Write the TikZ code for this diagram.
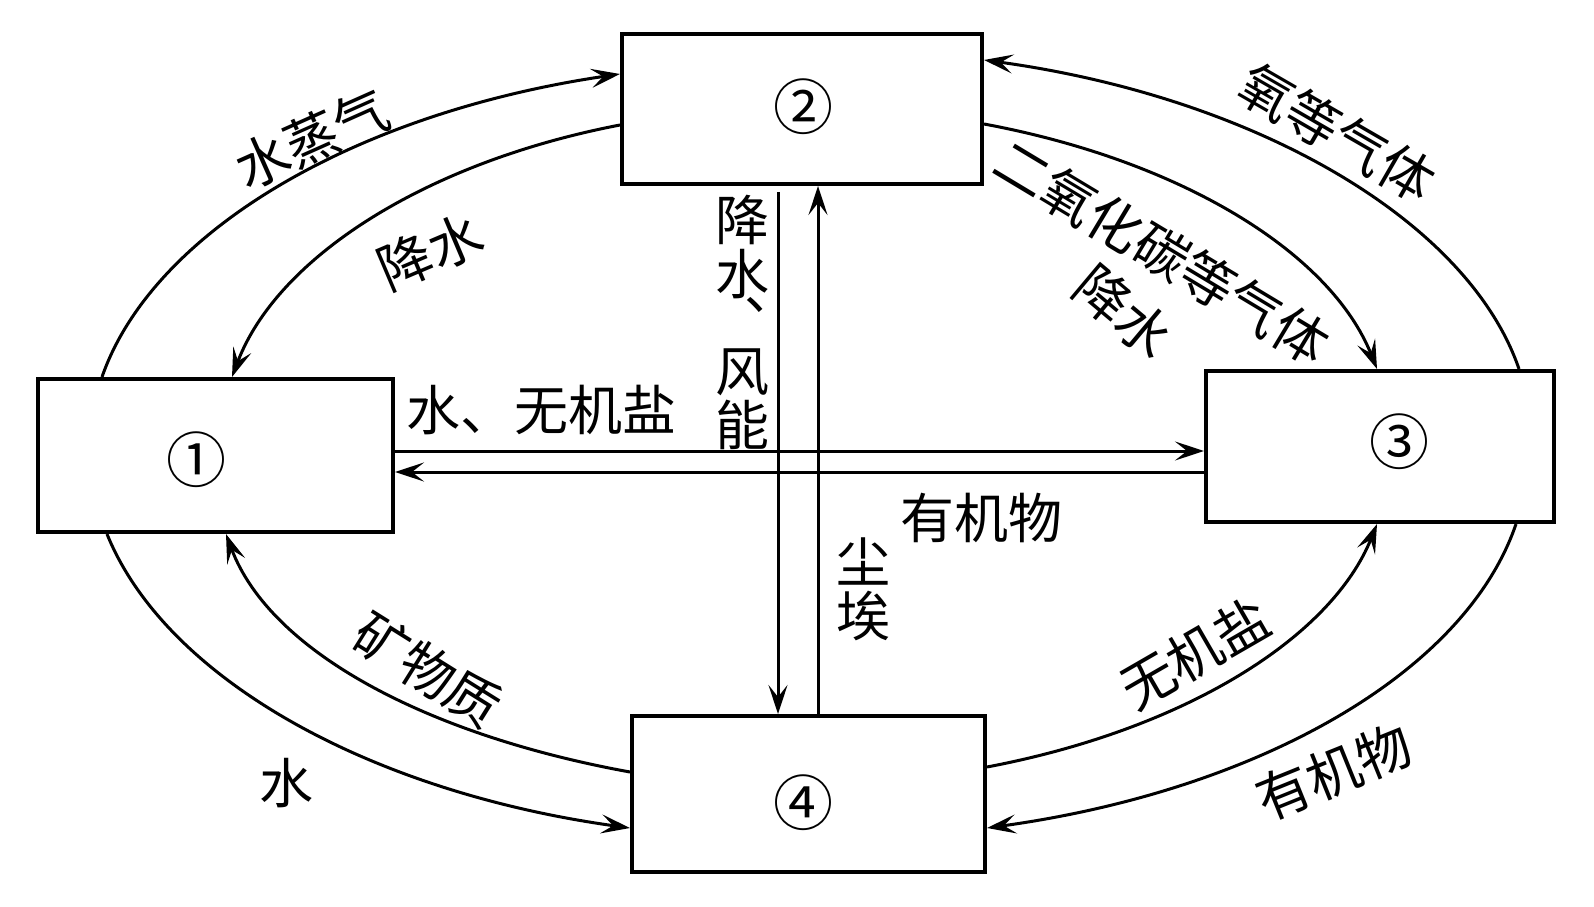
\documentclass[tikz,border=0pt]{standalone}
\usepackage{fontspec}
\setmainfont{Noto Sans CJK SC}
\usetikzlibrary{arrows.meta}
\begin{document}
\begin{tikzpicture}[x=1pt,y=1pt,
  box/.style={draw, line width=4pt, inner sep=0pt},
  lbl/.style={font=\fontsize{54}{54}\selectfont, inner sep=0pt},
  num/.style={font=\fontsize{60}{60}\selectfont, inner sep=0pt},
  flow/.style={line width=3pt, -{Stealth[length=29pt,width=19pt,inset=12pt]}},
]
\useasboundingbox (0,0) rectangle (1594,906);
% boxes
\node[box, minimum width=355pt, minimum height=153pt] (b1) at (215.5,450.5) {};
\node[box, minimum width=360pt, minimum height=150pt] (b2) at (802,797) {};
\node[box, minimum width=348pt, minimum height=151pt] (b3) at (1380,459.5) {};
\node[box, minimum width=353pt, minimum height=156pt] (b4) at (808.5,112) {};
\node[num] (n1) at (196,446.5) {①};
\node[num] (n2) at (803,799) {②};
\node[num] (n3) at (1399,464) {③};
\node[num] (n4) at (803,103) {④};
% outer arcs
\draw[flow] ([xshift=-113.5pt]b1.north) .. controls (152.3,673.8) and (353.4,792.6) .. ([yshift=35pt]b2.west);
\draw[flow] ([xshift=139pt]b3.north) .. controls (1467.9,686) and (1254.8,808.6) .. ([yshift=49pt]b2.east);
\draw[flow] ([xshift=-108.5pt]b1.south) .. controls (165.7,227) and (370.1,114.2) .. ([yshift=-34pt]b4.west);
\draw[flow] ([xshift=136pt]b3.south) .. controls (1464.9,232) and (1256.8,115.4) .. ([yshift=-34pt]b4.east);
% inner arcs
\draw[flow] ([yshift=-16pt]b2.west) .. controls (424.1,743.3) and (276.7,647.7) .. ([xshift=16.5pt]b1.north);
\draw[flow] ([yshift=-15pt]b2.east) .. controls (1181.4,745.2) and (1330.5,653.5) .. ([xshift=-3pt]b3.north);
\draw[flow] ([yshift=22pt]b4.west) .. controls (427.8,170.7) and (270,254) .. ([xshift=10.5pt]b1.south);
\draw[flow] ([yshift=27pt]b4.east) .. controls (1184.4,176.5) and (1331.1,267.9) .. ([xshift=-3pt]b3.south);
% straight connectors
\draw[flow] ([xshift=-24pt,yshift=-6pt]b2.south) -- ([xshift=-30.5pt]b4.north);
\draw[flow] ([xshift=9.5pt]b4.north) -- ([xshift=16pt]b2.south);
\draw[flow] ([yshift=4.5pt]b1.east) -- ([yshift=-4.5pt]b3.west);
\draw[flow] ([yshift=-25.5pt]b3.west) -- ([yshift=-16.5pt]b1.east);
% labels
\node[lbl, rotate=24] (t1) at (312,767) {水蒸气};
\node[lbl, rotate=23] (t2) at (430,654) {降水};
\node[lbl, align=center, anchor=north] (t3) at (742,711) {降\\水\\[-39pt]\hspace*{58pt}、\\[28pt]风\\能};
\node[lbl] (t4) at (541,496) {水、无机盐};
\node[lbl, rotate=-30] (t5) at (1337,773) {氧等气体};
\node[lbl, rotate=-31] (t6) at (1162,654) {二氧化碳等气体};
\node[lbl, rotate=-40] (t7) at (1124,594) {降水};
\node[lbl] (t8) at (981,388) {有机物};
\node[lbl, align=center, anchor=north] (t9) at (863,368) {尘\\埃};
\node[lbl, rotate=-32] (t10) at (428,236) {矿物质};
\node[lbl] (t11) at (286,123) {水};
\node[lbl, rotate=30] (t12) at (1195,253) {无机盐};
\node[lbl, rotate=22] (t13) at (1334,134) {有机物};
\end{tikzpicture}
\end{document}
